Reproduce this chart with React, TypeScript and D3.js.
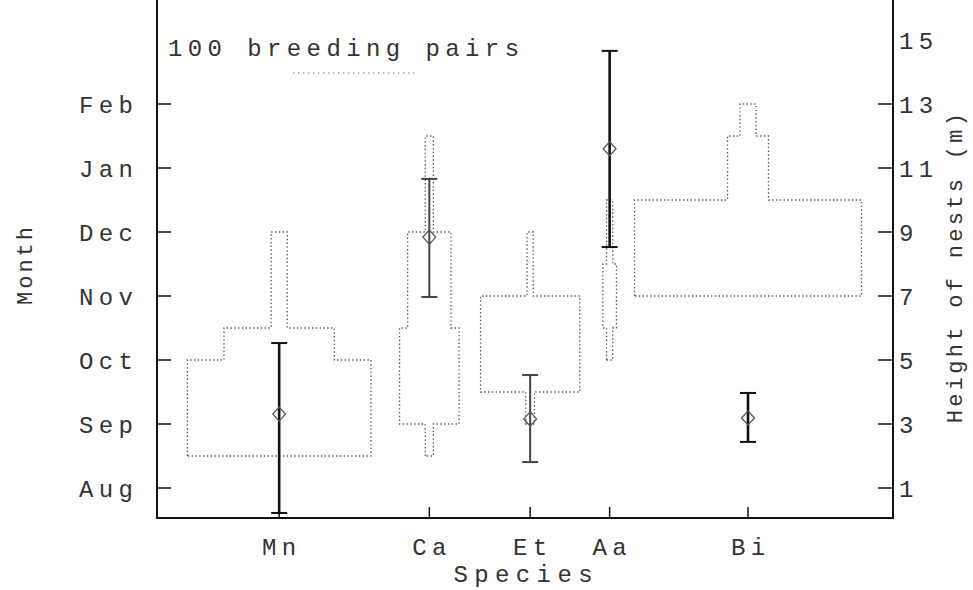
import React, { useRef, useEffect } from 'react';
import * as d3 from 'd3';

// species along the x axis (numeric positions on the species axis)
const species = ['Mn', 'Ca', 'Et', 'Aa', 'Bi'];
const speciesPos = [1.66, 3.7, 5.07, 6.15, 8.03];

// left axis: months, right axis: nest height (m), same units
const monthTicks = [1, 3, 5, 7, 9, 11, 13];
const monthLabels = ['Aug', 'Sep', 'Oct', 'Nov', 'Dec', 'Jan', 'Feb'];
const heightTicks = [1, 3, 5, 7, 9, 11, 13, 15];

// breeding pairs per height band (lo, hi, pairs) for each species
const profileMn = [[2, 5, 148], [5, 6, 89], [6, 9, 13]];
const profileCa = [[2, 3, 6.5], [3, 6, 48], [6, 9, 35], [9, 12, 6.5]];
const profileEt = [[3, 4, 7], [4, 7, 80], [7, 9, 5]];
const profileAa = [[5, 6, 5], [6, 8, 11], [8, 10, 5]];
const profileBi = [[7, 10, 183], [10, 12, 33], [12, 13, 13]];
const profiles = [profileMn, profileCa, profileEt, profileAa, profileBi];

// breeding month: mean and range
const monthMean = [3.31, 8.84, 3.16, 11.6, 3.19];
const monthLo = [0.22, 6.97, 1.81, 8.53, 2.44];
const monthHi = [5.53, 10.66, 4.53, 14.66, 3.97];

const legendPairs = 100;

const W = 973;
const H = 590;
const font = '"Liberation Mono", "DejaVu Sans Mono", monospace';

const App = () => {
  const svgRef = useRef<SVGSVGElement>(null);

  useEffect(() => {
    const svg = d3.select(svgRef.current);
    svg.selectAll('*').remove();

    const left = 157;
    const right = 893;
    const bottom = 518;

    const x = d3.scaleLinear().domain([0, 10]).range([left, right]);
    const y = d3.scaleLinear().domain([1, 15]).range([488, 40]);
    const w = d3.scaleLinear().domain([0, 100]).range([0, 124]);

    const ls = 5.4;
    const fs = 24;

    // profiles (dotted outlines)
    profiles.forEach((bins, i) => {
      const cx = x(speciesPos[i]);
      const pts: [number, number][] = [];
      bins.forEach(b => {
        pts.push([cx - w(b[2]) / 2, y(b[0])]);
        pts.push([cx - w(b[2]) / 2, y(b[1])]);
      });
      bins.slice().reverse().forEach(b => {
        pts.push([cx + w(b[2]) / 2, y(b[1])]);
        pts.push([cx + w(b[2]) / 2, y(b[0])]);
      });
      svg.append('path')
        .attr('d', d3.line()(pts) + 'Z')
        .attr('fill', 'none')
        .attr('stroke', '#555')
        .attr('stroke-width', 1.3)
        .attr('stroke-dasharray', '1.4 2.4');
    });

    // error bars
    species.forEach((s, i) => {
      const cx = x(speciesPos[i]);
      const light = s === 'Ca' || s === 'Et';
      const col = light ? '#444' : '#111';
      const sw = light ? 2 : 2.6;
      svg.append('line')
        .attr('x1', cx).attr('x2', cx)
        .attr('y1', y(monthLo[i])).attr('y2', y(monthHi[i]))
        .attr('stroke', col).attr('stroke-width', sw);
      [monthLo[i], monthHi[i]].forEach(v => {
        svg.append('line')
          .attr('x1', cx - 8).attr('x2', cx + 8)
          .attr('y1', y(v)).attr('y2', y(v))
          .attr('stroke', col).attr('stroke-width', 2);
      });
      svg.append('path')
        .attr('d', d3.symbol(d3.symbolDiamond, 90)())
        .attr('transform', `translate(${cx},${y(monthMean[i])}) scale(1.25,0.8)`)
        .attr('fill', 'none')
        .attr('stroke', '#555')
        .attr('stroke-width', 1.2);
    });

    // axes
    const axisCol = '#111';
    svg.append('line').attr('x1', left).attr('x2', left).attr('y1', 0).attr('y2', bottom)
      .attr('stroke', axisCol).attr('stroke-width', 2);
    svg.append('line').attr('x1', right).attr('x2', right).attr('y1', 0).attr('y2', bottom)
      .attr('stroke', axisCol).attr('stroke-width', 2);
    svg.append('line').attr('x1', left - 1).attr('x2', right + 1).attr('y1', bottom).attr('y2', bottom)
      .attr('stroke', axisCol).attr('stroke-width', 2);

    const text = (sel: any) => sel
      .style('font-family', font)
      .style('font-size', `${fs}px`)
      .style('letter-spacing', `${ls}px`)
      .attr('fill', '#333');

    monthTicks.forEach((v, i) => {
      svg.append('line').attr('x1', left).attr('x2', left + 14)
        .attr('y1', y(v)).attr('y2', y(v)).attr('stroke', axisCol).attr('stroke-width', 1.5);
      svg.append('text').call(text)
        .attr('x', 133 + ls).attr('y', y(v)).attr('dy', 9)
        .attr('text-anchor', 'end')
        .text(monthLabels[i]);
    });

    heightTicks.forEach(v => {
      if (v !== 15) {
        svg.append('line').attr('x1', right - 15).attr('x2', right)
          .attr('y1', y(v)).attr('y2', y(v)).attr('stroke', axisCol).attr('stroke-width', 1.5);
      }
      svg.append('text').call(text)
        .attr('x', 899).attr('y', y(v)).attr('dy', 9)
        .text(v);
    });

    species.forEach((s, i) => {
      const cx = x(speciesPos[i]);
      svg.append('line').attr('x1', cx).attr('x2', cx).attr('y1', bottom).attr('y2', bottom - 11)
        .attr('stroke', axisCol).attr('stroke-width', 1.5);
      svg.append('text').call(text)
        .attr('x', cx + ls / 2).attr('y', 555)
        .attr('text-anchor', 'middle')
        .text(s);
    });

    // axis titles
    svg.append('text').call(text)
      .attr('x', 523 + 3.2).attr('y', 582)
      .style('letter-spacing', '6.4px')
      .attr('text-anchor', 'middle')
      .text('Species');

    svg.append('text').call(text)
      .style('font-size', '22px')
      .style('letter-spacing', '3px')
      .attr('text-anchor', 'middle')
      .attr('transform', `translate(32,${266 - 1.5}) rotate(-90)`)
      .text('Month');

    svg.append('text').call(text)
      .style('font-size', '22px')
      .style('letter-spacing', '3.3px')
      .attr('text-anchor', 'middle')
      .attr('transform', `translate(962,${268 - 1.6}) rotate(-90)`)
      .text('Height of nests (m)');

    // legend
    svg.append('text').call(text)
      .attr('x', 168).attr('y', 56)
      .text(`${legendPairs} breeding pairs`);
    svg.append('line')
      .attr('x1', 293).attr('x2', 293 + w(legendPairs))
      .attr('y1', 73).attr('y2', 73)
      .attr('stroke', '#777').attr('stroke-width', 1.2)
      .attr('stroke-dasharray', '1.4 3.6');
  }, []);

  return (
    <svg
      ref={svgRef}
      width={W}
      height={H}
      viewBox={`0 0 ${W} ${H}`}
      style={{ position: 'absolute', left: 0, top: 0, background: '#fff' }}
    ></svg>
  );
};

export default App;
